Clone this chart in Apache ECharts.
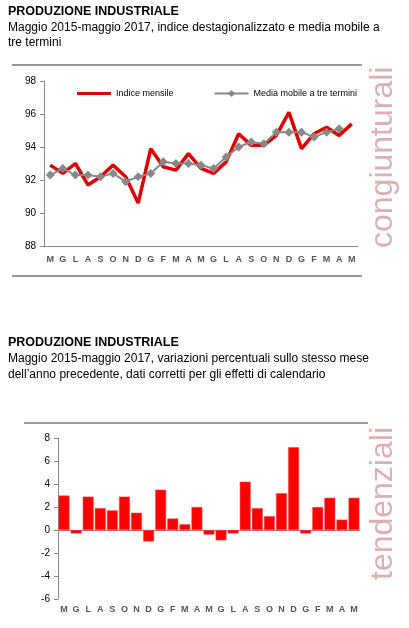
<!DOCTYPE html>
<html><head><meta charset="utf-8">
<script src="https://cdn.jsdelivr.net/npm/echarts@6/dist/echarts.min.js"></script>
<style>body{margin:0;background:#fff}#c{width:409px;height:628px}</style>
</head><body><div id="c"></div>
<script>
const months = ['M','G','L','A','S','O','N','D','G','F','M','A','M','G','L','A','S','O','N','D','G','F','M','A','M'];
const indiceMensile = [92.9,92.4,93.0,91.7,92.2,92.9,92.2,90.6,93.9,92.8,92.6,93.6,92.7,92.4,93.1,94.8,94.1,94.1,94.7,96.1,93.9,94.8,95.2,94.7,95.4];
const mediaMobile = [92.3,92.7,92.3,92.3,92.2,92.4,91.9,92.2,92.4,93.1,93.0,93.0,92.9,92.7,93.4,94.0,94.3,94.2,94.9,94.9,94.9,94.6,94.9,95.1,null];
const variazioni = [3.0,-0.3,2.9,1.9,1.7,2.9,1.5,-1.0,3.5,1.0,0.5,2.0,-0.4,-0.9,-0.3,4.2,1.9,1.2,3.2,7.2,-0.3,2.0,2.8,0.9,2.8];

const ff = 'Liberation Sans, Arial, sans-serif';
const chart = echarts.init(document.getElementById('c'));
const txt = (x,y,t,bold,size)=>({type:'text',left:x,top:y,style:{text:t,font:(bold?'bold ':'')+size+'px '+ff,fill:'#000'}});
const axisLab = {color:'#555',fontSize:9,fontWeight:'bold',fontFamily:ff};
chart.setOption({
  animation:false,
  graphic:[
    txt(8,5,'PRODUZIONE INDUSTRIALE',true,12.5),
    txt(8,22,'Maggio 2015-maggio 2017, indice destagionalizzato e media mobile a',false,12),
    txt(8,37,'tre termini',false,12),
    {type:'line',shape:{x1:12,y1:65,x2:362,y2:65},style:{stroke:'#333',lineWidth:1}},
    {type:'line',shape:{x1:12,y1:276,x2:362,y2:276},style:{stroke:'#333',lineWidth:1}},
    {type:'text',x:399,y:248,rotation:Math.PI/2,style:{text:'congiunturali',font:'32px '+ff,fill:'#dcb0b0',verticalAlign:'bottom'}},
    txt(8,336,'PRODUZIONE INDUSTRIALE',true,12.5),
    txt(8,353,'Maggio 2015-maggio 2017, variazioni percentuali sullo stesso mese',false,12),
    txt(8,369,'dell\u2019anno precedente, dati corretti per gli effetti di calendario',false,12),
    {type:'line',shape:{x1:24,y1:423,x2:368,y2:423},style:{stroke:'#333',lineWidth:1}},
    {type:'text',x:399,y:580,rotation:Math.PI/2,style:{text:'tendenziali',font:'32px '+ff,fill:'#dcb0b0',verticalAlign:'bottom'}}
  ],
  legend:{top:84,left:72,itemWidth:34,itemHeight:9,itemGap:40,
    textStyle:{fontSize:9,fontFamily:ff,color:'#000'},
    data:[{name:'Indice mensile',icon:'path://M0,3H34V6H0Z'},'Media mobile a tre termini']},
  grid:[{left:44,top:81,right:51,bottom:382},{left:58,top:438,right:49,bottom:29}],
  xAxis:[
    {gridIndex:0,type:'category',data:months,boundaryGap:true,axisLine:{lineStyle:{color:'#888'}},axisTick:{show:false},axisLabel:Object.assign({interval:0,margin:9},axisLab)},
    {gridIndex:1,type:'category',data:months,axisLine:{onZero:true,lineStyle:{color:'#d66'}},axisTick:{show:false},axisLabel:Object.assign({interval:0,margin:6},axisLab),position:'bottom'}
  ],
  yAxis:[
    {gridIndex:0,min:88,max:98,interval:2,axisLine:{show:true,lineStyle:{color:'#888'}},axisTick:{show:true,length:4,lineStyle:{color:'#888'}},splitLine:{show:false},axisLabel:{color:'#000',fontSize:10,fontFamily:ff}},
    {gridIndex:1,min:-6,max:8,interval:2,axisLine:{show:true,lineStyle:{color:'#888'}},axisTick:{show:true,length:4,lineStyle:{color:'#888'}},splitLine:{show:false},axisLabel:{color:'#000',fontSize:10,fontFamily:ff}}
  ],
  series:[
    {name:'Indice mensile',type:'line',xAxisIndex:0,yAxisIndex:0,data:indiceMensile,symbol:'none',lineStyle:{color:'#e00000',width:3.5},itemStyle:{color:'#e00000'}},
    {name:'Media mobile a tre termini',type:'line',xAxisIndex:0,yAxisIndex:0,data:mediaMobile,symbol:'diamond',symbolSize:9,lineStyle:{color:'#888',width:2},itemStyle:{color:'#888'}},
    {name:'var',type:'bar',xAxisIndex:1,yAxisIndex:1,data:variazioni,barCategoryGap:'10%',itemStyle:{color:'#ff0000',borderColor:'#e05050',borderWidth:0.5}}
  ]
});
</script></body></html>
